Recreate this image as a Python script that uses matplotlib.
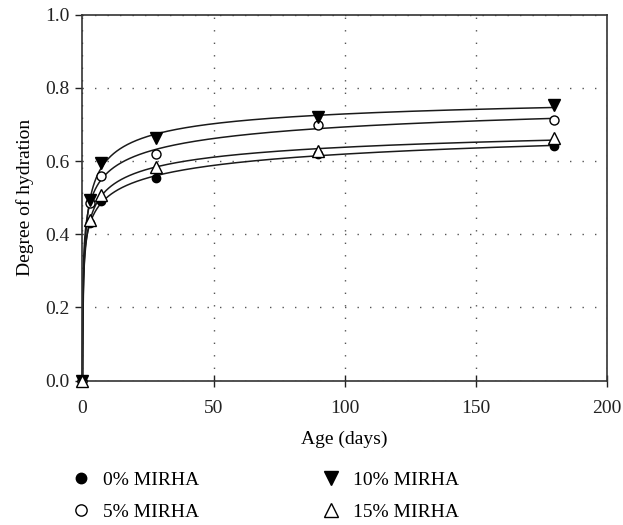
''' Degree of hydration vs age for MIRHA blends, with fitted hydration curves. '''

import numpy as np
import matplotlib
matplotlib.use('Agg')
import matplotlib.pyplot as plt

# Data
days = [0, 3, 7, 28, 90, 180]
mirha_0 = [0.0, 0.430, 0.490, 0.553, 0.620, 0.641]
mirha_5 = [0.0, 0.485, 0.559, 0.619, 0.699, 0.712]
mirha_10 = [0.0, 0.493, 0.594, 0.664, 0.721, 0.753]
mirha_15 = [0.0, 0.440, 0.507, 0.583, 0.628, 0.662]
labels = ['0% MIRHA', '5% MIRHA', '10% MIRHA', '15% MIRHA']


def fit_hydration(t, a):

    """ Least squares fit of a(t) = au * exp(-(tau/t)^beta) by grid search.

    Returns a function of t for the fitted curve.
    """

    t = np.asarray(t, dtype=float)
    a = np.asarray(a, dtype=float)
    keep = t > 0
    t, a = t[keep], a[keep]

    taus = np.linspace(0.02, 10, 300)[:, None, None]
    betas = np.linspace(0.05, 1.5, 200)[None, :, None]
    f = np.exp(-(taus / t[None, None, :]) ** betas)
    au = (f * a).sum(axis=2) / (f * f).sum(axis=2)
    err = ((a - au[:, :, None] * f) ** 2).sum(axis=2)
    i, j = np.unravel_index(np.argmin(err), err.shape)
    tau, beta, a_u = taus[i, 0, 0], betas[0, j, 0], au[i, j]

    def curve(x):
        x = np.asarray(x, dtype=float)
        out = np.zeros_like(x)
        pos = x > 0
        out[pos] = a_u * np.exp(-(tau / x[pos]) ** beta)
        return out

    return curve


plt.rcParams['font.family'] = ['Liberation Serif', 'DejaVu Serif']

fig = plt.figure(figsize=(6.23, 5.25), dpi=100)
ax = fig.add_axes([0.1324, 0.2749, 0.8414, 0.6971])

series = [mirha_0, mirha_5, mirha_10, mirha_15]
styles = [
    dict(marker='o', ms=6, mfc='black', mec='black'),
    dict(marker='o', ms=6.5, mfc='white', mec='black'),
    dict(marker='v', ms=8, mfc='black', mec='black'),
    dict(marker='^', ms=8, mfc='white', mec='black'),
]

xfit = np.concatenate([[0.0], np.geomspace(1e-4, 180, 3000)])
for vals in series:
    curve = fit_hydration(days, vals)
    ax.plot(xfit, curve(xfit), color='#1a1a1a', lw=1.1, zorder=2, clip_on=False)

handles = []
for vals, st, lab in zip(series, styles, labels):
    h, = ax.plot(days, vals, ls='none', mew=1.0, zorder=3, label=lab, clip_on=False, **st)
    handles.append(h)

ax.set_xlim(0, 200)
ax.set_ylim(0, 1.0)
ax.set_xticks([0, 50, 100, 150, 200])
ax.set_yticks([0.0, 0.2, 0.4, 0.6, 0.8, 1.0])
ax.set_yticklabels(['0.0', '0.2', '0.4', '0.6', '0.8', '1.0'])
ax.tick_params(axis='y', direction='out', length=5, width=1, labelsize=14, pad=4, colors='#222222')
ax.tick_params(axis='x', direction='inout', length=8, width=1, labelsize=14, pad=10, colors='#222222')

ax.grid(True, ls=(0, (1, 8)), color='#555555', lw=1.0)
ax.set_axisbelow(True)
for s in ax.spines.values():
    s.set_color('#333333')
    s.set_linewidth(1.2)

ax.set_xlabel('Age (days)', fontsize=14, labelpad=10)
ax.set_ylabel('Degree of hydration', fontsize=14, labelpad=8)

fig.legend(handles=handles, loc='upper left', bbox_to_anchor=(0.115, 0.103), ncol=2,
           frameon=False, fontsize=14, handlelength=1.0, handletextpad=0.6,
           columnspacing=6.3, labelspacing=0.75, borderaxespad=0, borderpad=0,
           markerscale=1.25)

fig.savefig('out.png', dpi=100)
